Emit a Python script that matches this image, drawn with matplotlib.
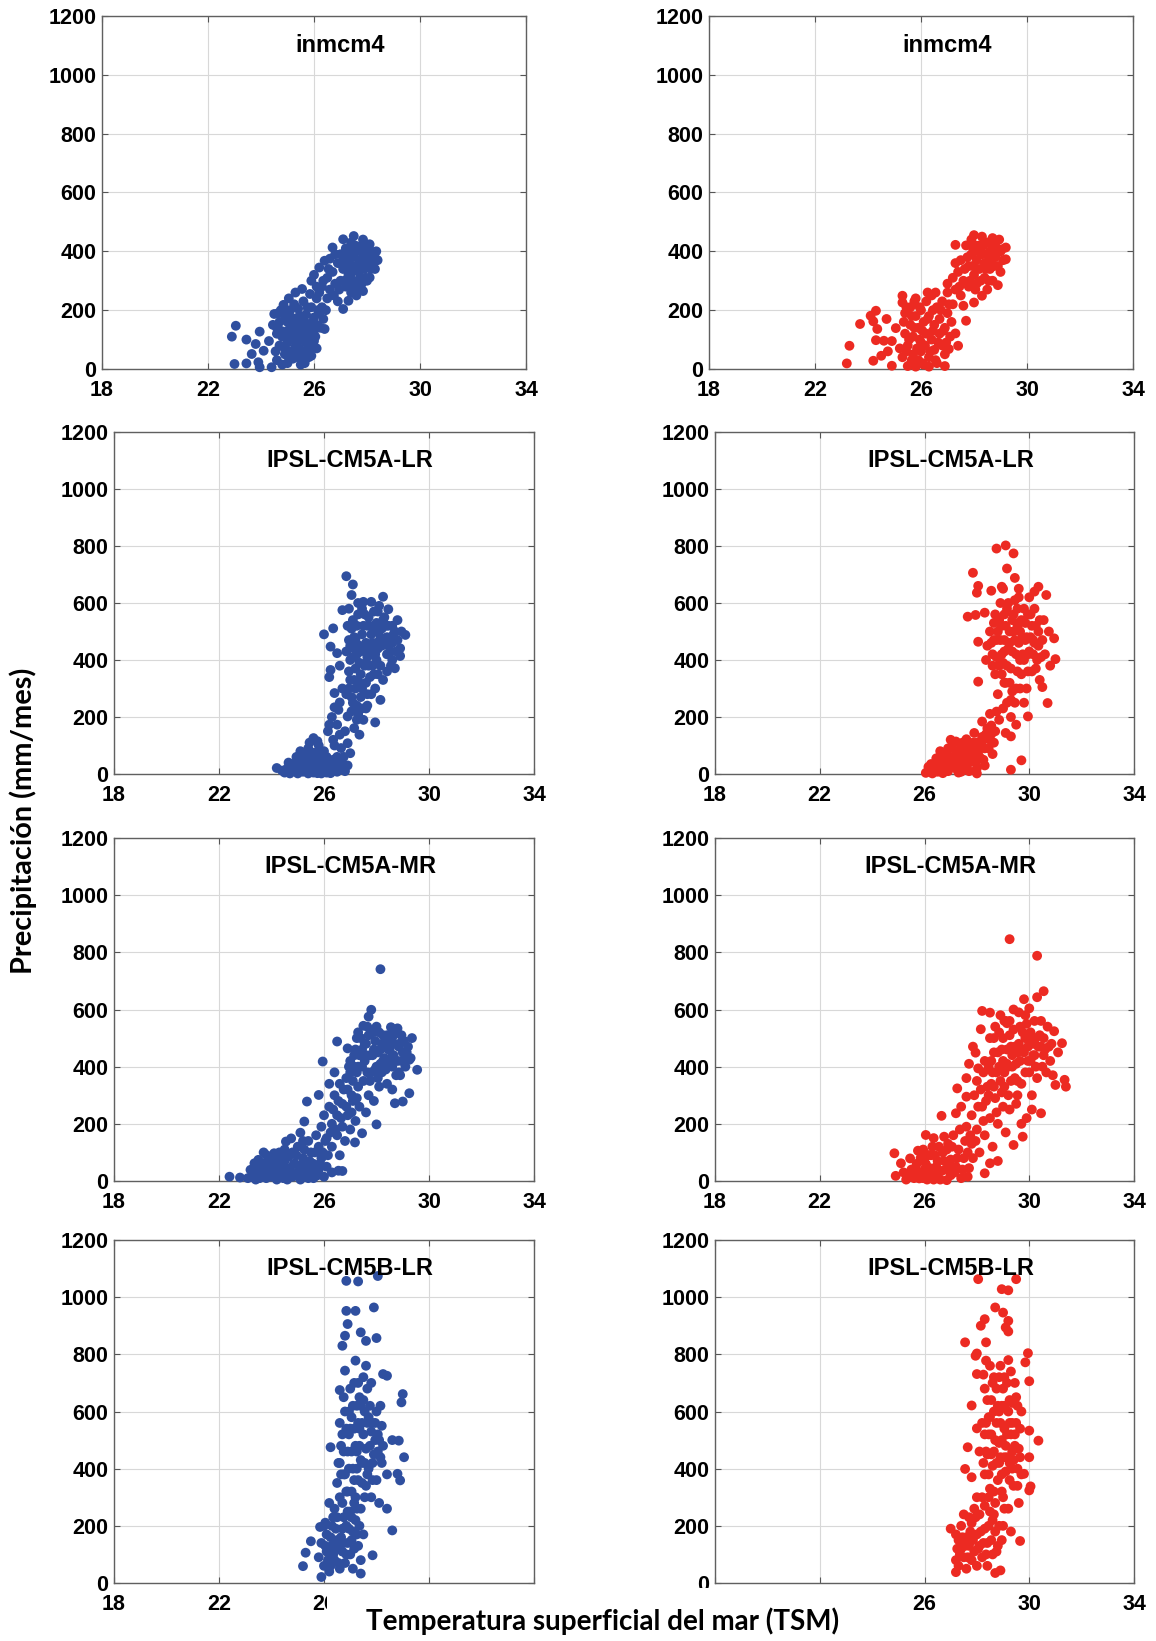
import numpy as np
import matplotlib
matplotlib.use("Agg")
import matplotlib.pyplot as plt
from matplotlib.patches import Rectangle

# sea surface temperature (x) vs precipitation (y), one list of pairs per panel
inmcm4_obs = [
    (22.9, 110), (23.05, 147), (23.0, 17), (23.45, 19), (23.45, 100), (23.65, 51), (23.8, 85), (23.95, 127),
    (23.9, 23), (23.95, 6), (24.4, 6), (24.1, 62), (24.5, 187), (24.85, 218), (24.3, 95), (24.6, 140),
    (24.6, 30), (24.7, 80), (24.7, 160), (24.8, 110), (24.8, 15), (24.9, 50), (24.9, 180), (25.0, 130),
    (25.0, 90), (25.0, 20), (25.1, 60), (25.1, 200), (25.2, 150), (25.2, 100), (25.2, 35), (25.3, 170),
    (25.3, 75), (25.4, 125), (25.4, 205), (25.4, 40), (25.5, 100), (25.5, 160), (25.5, 15), (25.6, 60),
    (25.6, 230), (25.6, 135), (25.7, 185), (25.7, 90), (25.8, 40), (25.8, 150), (25.8, 110), (25.9, 210),
    (25.9, 70), (26.0, 130), (26.0, 175), (26.0, 95), (26.1, 240), (26.1, 150), (26.2, 190), (26.3, 210),
    (25.3, 260), (25.55, 272), (24.75, 200), (25.85, 255), (25.0, 160), (24.6, 120), (25.9, 45), (25.65, 20),
    (26.35, 170), (26.4, 136), (26.0, 320), (25.9, 300), (26.2, 345), (26.3, 280), (26.4, 368), (26.5, 310),
    (26.5, 240), (26.6, 270), (26.7, 413), (26.7, 330), (26.8, 290), (26.9, 360), (26.9, 230), (27.0, 390),
    (27.1, 204), (27.3, 232), (26.45, 200), (26.6, 375), (26.2, 260), (27.0, 300), (27.1, 441), (27.1, 340),
    (27.2, 410), (27.2, 280), (27.3, 370), (27.3, 320), (27.4, 430), (27.4, 260), (27.5, 452), (27.5, 350),
    (27.5, 300), (27.6, 400), (27.6, 250), (27.7, 370), (27.7, 330), (27.8, 420), (27.8, 290), (27.9, 380),
    (27.9, 340), (28.0, 400), (28.0, 300), (28.1, 424), (28.1, 311), (28.2, 360), (28.25, 390), (28.3, 377),
    (28.4, 370), (28.0, 350), (27.65, 280), (27.85, 265), (27.2, 385),
    (24.55, 60), (24.65, 190), (24.75, 130), (24.85, 75), (24.95, 110), (24.95, 200), (25.05, 40), (25.15, 125),
    (25.15, 175), (25.25, 55), (25.25, 220), (25.35, 100), (25.35, 145), (25.45, 70), (25.45, 180), (25.55, 120),
    (25.55, 40), (25.65, 160), (25.65, 95), (25.75, 65), (25.75, 210), (25.85, 130), (25.95, 160), (26.05, 110),
    (26.15, 200), (26.25, 140), (24.45, 150), (25.05, 240), (26.1, 70),
    (27.05, 360), (27.15, 300), (27.25, 350), (27.35, 400), (27.35, 290), (27.45, 330), (27.45, 380), (27.55, 420),
    (27.55, 270), (27.65, 350), (27.75, 400), (27.75, 310), (27.85, 440), (27.95, 360), (27.95, 310), (28.05, 380),
    (28.15, 340), (28.15, 400), (28.3, 340), (28.35, 400), (26.8, 390), (26.95, 270), (26.55, 340), (26.75, 250),
    (26.35, 300), (26.1, 280),
]
inmcm4_mod = [
    (23.2, 19), (23.3, 79), (23.7, 153), (24.1, 181), (24.3, 198), (24.2, 162), (24.35, 136), (24.3, 98),
    (24.2, 28), (24.6, 96), (24.7, 170), (25.05, 139), (25.3, 249), (25.3, 226), (24.9, 11), (24.5, 45),
    (24.75, 60), (24.9, 95), (25.3, 40), (25.4, 120), (25.4, 190), (25.5, 80), (25.5, 10), (25.6, 150),
    (25.6, 210), (25.7, 50), (25.7, 110), (25.8, 8), (25.8, 180), (25.8, 240), (25.9, 30), (25.9, 140),
    (26.0, 90), (26.0, 200), (26.0, 60), (26.1, 160), (26.1, 15), (26.2, 120), (26.2, 230), (26.3, 40),
    (26.3, 180), (26.4, 100), (26.4, 250), (26.5, 65), (26.5, 150), (26.6, 210), (26.6, 20), (26.7, 120),
    (26.7, 170), (26.8, 80), (26.8, 230), (26.9, 140), (26.9, 50), (27.0, 190), (27.0, 260), (27.1, 110),
    (27.05, 68), (27.2, 220), (27.3, 121), (27.4, 79), (25.6, 15), (26.3, 8), (26.9, 10), (25.2, 70),
    (25.95, 100), (26.55, 260), (27.0, 290), (27.2, 310), (27.3, 270), (27.4, 330), (27.5, 250), (27.6, 215),
    (27.6, 300), (27.7, 164), (28.0, 226), (28.3, 249), (27.3, 422), (27.5, 370), (27.7, 420), (27.8, 350),
    (27.8, 280), (27.9, 440), (27.9, 390), (28.0, 320), (28.0, 455), (28.1, 370), (28.1, 290), (28.2, 420),
    (28.2, 340), (28.3, 450), (28.3, 390), (28.4, 310), (28.4, 360), (28.5, 430), (28.5, 270), (28.6, 400),
    (28.6, 340), (28.7, 445), (28.7, 300), (28.8, 380), (28.8, 420), (28.9, 285), (28.9, 350), (29.0, 400),
    (29.05, 407), (29.2, 373), (29.2, 413), (27.9, 419), (28.6, 370), (29.0, 330),
    (25.35, 160), (25.45, 60), (25.55, 100), (25.65, 30), (25.65, 180), (25.75, 140), (25.85, 70), (25.95, 210),
    (26.05, 130), (26.05, 20), (26.15, 80), (26.25, 170), (26.35, 60), (26.45, 200), (26.45, 130), (26.55, 30),
    (26.65, 90), (26.75, 200), (26.85, 130), (26.95, 90), (27.05, 220), (27.15, 160), (25.75, 230), (26.25, 260),
    (25.45, 210),
    (27.75, 380), (27.85, 300), (27.95, 350), (28.05, 420), (28.05, 270), (28.15, 400), (28.25, 300), (28.35, 420),
    (28.45, 340), (28.45, 390), (28.55, 300), (28.65, 430), (28.75, 350), (28.85, 400), (28.95, 440), (29.1, 370),
    (27.65, 340), (27.45, 280), (27.3, 360),
]
cm5a_lr_obs = [
    (24.2, 21), (24.5, 5), (24.6, 20), (24.7, 2), (24.8, 35), (24.9, 10), (25.0, 50), (25.0, 2),
    (25.1, 25), (25.2, 70), (25.2, 8), (25.3, 40), (25.4, 90), (25.4, 2), (25.5, 55), (25.5, 20),
    (25.6, 126), (25.6, 5), (25.7, 75), (25.7, 35), (25.8, 100), (25.8, 10), (25.9, 50), (25.9, 2),
    (26.0, 80), (26.0, 25), (26.1, 60), (26.1, 5), (26.2, 40), (26.3, 15), (26.4, 30), (26.5, 8),
    (26.6, 20), (26.7, 35), (26.8, 10), (25.3, 60), (25.1, 80), (24.95, 60), (25.75, 3), (26.25, 3),
    (26.2, 173), (26.5, 173), (26.15, 150), (26.6, 138), (26.9, 108), (27.0, 73), (26.35, 120), (26.65, 91),
    (26.4, 100), (26.5, 60), (26.8, 150), (26.3, 200), (26.55, 225), (26.2, 340), (26.4, 284), (26.4, 234),
    (26.6, 251), (26.0, 490), (26.35, 511), (26.25, 447), (26.25, 365), (26.5, 424), (26.7, 300), (26.6, 380),
    (26.85, 694), (27.1, 665), (27.05, 628), (28.25, 622), (28.45, 578), (27.8, 604), (27.5, 604), (26.7, 575),
    (29.1, 488), (28.95, 500), (28.9, 441), (28.9, 414), (28.7, 371), (28.25, 330), (28.15, 260), (27.95, 181),
    (27.35, 138), (27.15, 161), (26.9, 202), (27.1, 250), (27.3, 210), (27.6, 230), (27.8, 280), (27.0, 330),
    (27.2, 300), (27.4, 270), (27.6, 320), (27.9, 350), (27.0, 400), (27.2, 370), (27.4, 350), (27.6, 390),
    (27.8, 420), (28.0, 400), (28.2, 450), (28.4, 480), (28.6, 520), (27.0, 450), (27.2, 470), (27.4, 430),
    (27.6, 460), (27.8, 490), (28.0, 530), (28.2, 510), (28.4, 420), (28.6, 460), (28.8, 540), (26.9, 520),
    (27.1, 540), (27.3, 560), (27.5, 520), (27.7, 550), (27.9, 570), (28.1, 590), (28.3, 550), (27.3, 600),
    (26.95, 580), (28.6, 400), (28.0, 460), (27.5, 190), (27.7, 380), (28.4, 360), (27.1, 410),
    (24.4, 12), (24.65, 40), (24.85, 15), (25.05, 30), (25.15, 45), (25.25, 20), (25.35, 10), (25.45, 35),
    (25.55, 75), (25.65, 50), (25.85, 30), (25.95, 65), (26.05, 45), (26.15, 25), (26.35, 50), (26.45, 15),
    (26.55, 40), (26.75, 60), (26.9, 30), (25.45, 110), (25.75, 115),
    (26.95, 360), (27.05, 270), (27.15, 480), (27.25, 420), (27.35, 320), (27.45, 490), (27.55, 380), (27.65, 280),
    (27.75, 440), (27.85, 380), (27.95, 420), (28.05, 350), (28.15, 480), (28.35, 520), (28.45, 450), (28.55, 380),
    (28.7, 500), (28.75, 430), (27.25, 240), (27.45, 580), (27.65, 520), (28.05, 570), (26.85, 430), (26.85, 280),
    (26.95, 470), (27.05, 510), (27.15, 330), (27.25, 520), (27.35, 450), (27.45, 300), (27.55, 440), (27.55, 560),
    (27.65, 410), (27.75, 340), (27.75, 520), (27.85, 460), (27.95, 300), (27.95, 500), (28.05, 440), (28.15, 380),
    (28.25, 540), (28.35, 470), (28.45, 520), (28.55, 430), (28.65, 490), (28.8, 470), (27.35, 390), (27.15, 440),
    (26.95, 300), (27.05, 220), (27.25, 190), (27.45, 230), (27.65, 240),
]
cm5a_lr_mod = [
    (26.05, 4), (26.2, 15), (26.3, 2), (26.4, 30), (26.5, 8), (26.5, 50), (26.6, 20), (26.7, 70),
    (26.7, 3), (26.8, 40), (26.9, 90), (26.9, 10), (27.0, 60), (27.1, 25), (27.2, 114), (27.2, 80),
    (27.3, 5), (27.3, 45), (27.4, 95), (27.5, 30), (27.6, 122), (27.6, 70), (27.7, 10), (27.7, 100),
    (27.8, 50), (27.9, 144), (27.9, 80), (28.0, 20), (28.0, 110), (28.1, 60), (28.2, 184), (28.2, 130),
    (28.3, 90), (28.3, 30), (28.4, 160), (28.5, 211), (28.5, 120), (28.6, 70), (28.75, 219), (28.7, 150),
    (26.6, 80), (27.0, 120), (27.4, 8), (28.0, 2), (29.3, 15), (29.7, 48),
    (28.75, 791), (29.1, 802), (29.4, 774), (29.15, 721), (29.45, 688), (27.85, 706), (28.05, 660), (28.0, 636),
    (28.55, 643), (28.95, 657), (30.35, 657), (30.65, 628), (27.65, 552), (27.95, 558), (28.3, 566), (28.05, 464),
    (31.0, 403), (30.95, 476), (30.7, 249), (30.5, 305), (28.05, 324), (29.95, 202), (29.5, 173), (29.1, 144),
    (29.3, 132), (28.5, 500), (28.6, 420), (28.7, 560), (28.7, 350), (28.8, 280), (28.9, 470), (28.9, 600),
    (29.0, 390), (29.0, 230), (29.1, 520), (29.1, 320), (29.2, 440), (29.2, 600), (29.3, 260), (29.3, 370),
    (29.4, 500), (29.4, 560), (29.5, 420), (29.5, 300), (29.6, 620), (29.6, 460), (29.7, 350), (29.7, 540),
    (29.8, 400), (29.8, 580), (29.9, 480), (29.9, 300), (30.0, 620), (30.0, 430), (30.1, 520), (30.1, 360),
    (30.2, 580), (30.2, 460), (30.3, 400), (30.4, 540), (30.4, 330), (30.5, 470), (30.6, 420), (30.75, 500),
    (30.8, 380), (29.0, 650), (29.6, 650), (28.4, 450), (28.6, 380), (28.8, 500), (29.3, 200), (29.8, 250),
    (30.2, 640), (28.35, 400),
    (26.25, 35), (26.35, 10), (26.45, 55), (26.55, 25), (26.65, 45), (26.75, 20), (26.85, 65), (26.95, 35),
    (27.05, 95), (27.15, 50), (27.25, 15), (27.35, 70), (27.45, 50), (27.55, 100), (27.65, 35), (27.75, 70),
    (27.85, 110), (27.95, 40), (28.05, 80), (28.15, 100), (28.25, 50), (28.35, 140), (28.45, 90), (28.55, 170),
    (28.65, 110), (28.85, 190),
    (28.65, 470), (28.75, 410), (28.85, 540), (28.95, 350), (29.05, 470), (29.05, 560), (29.15, 380), (29.25, 500),
    (29.35, 430), (29.45, 610), (29.55, 360), (29.55, 520), (29.65, 400), (29.75, 480), (29.85, 530), (29.95, 360),
    (29.95, 420), (30.05, 560), (30.15, 470), (30.25, 520), (30.35, 450), (29.25, 320), (29.45, 250), (28.95, 420),
    (28.55, 460), (28.65, 530), (28.75, 470), (28.85, 380), (28.95, 520), (29.05, 430), (29.15, 580), (29.25, 460),
    (29.35, 540), (29.45, 470), (29.55, 580), (29.65, 500), (29.75, 420), (29.85, 470), (29.95, 560), (30.05, 480),
    (30.15, 420), (30.25, 370), (30.35, 500), (30.45, 410), (29.35, 290), (29.15, 250), (29.65, 300), (29.05, 320),
    (30.55, 540), (26.15, 25), (26.45, 40), (26.75, 50), (27.05, 40), (27.35, 30), (27.65, 55), (27.95, 100),
    (28.25, 120), (28.55, 140), (27.45, 110),
]
cm5a_mr_obs = [
    (22.4, 15), (22.8, 12), (23.2, 39), (23.35, 62), (23.5, 74), (23.8, 91), (24.1, 97), (24.55, 138),
    (24.75, 149), (25.1, 169), (25.35, 278), (25.25, 208), (25.8, 301), (25.95, 418), (26.5, 488), (26.9, 464),
    (23.1, 10), (23.3, 30), (23.4, 5), (23.5, 45), (23.6, 20), (23.7, 60), (23.8, 10), (23.9, 40),
    (24.0, 70), (24.0, 15), (24.2, 50), (24.2, 5), (24.3, 100), (24.4, 30), (24.5, 70), (24.6, 5),
    (24.7, 45), (24.8, 100), (24.8, 15), (24.9, 60), (25.0, 120), (25.0, 30), (25.1, 5), (25.2, 80),
    (25.3, 45), (25.4, 140), (25.4, 10), (25.5, 100), (25.6, 60), (25.6, 25), (25.7, 160), (25.8, 120),
    (25.8, 40), (25.9, 80), (26.0, 15), (26.1, 50), (26.3, 30), (25.2, 140), (24.5, 110), (23.7, 100),
    (25.9, 190), (26.0, 230), (26.1, 150), (26.2, 260), (26.3, 200), (26.3, 120), (26.4, 300), (26.5, 230),
    (26.5, 160), (26.6, 340), (26.6, 90), (26.7, 270), (26.7, 190), (26.8, 140), (26.9, 320), (26.9, 230),
    (27.0, 380), (27.0, 180), (27.1, 280), (27.2, 210), (27.3, 330), (26.4, 380), (26.2, 340), (26.7, 35),
    (26.55, 36), (27.18, 135), (27.45, 167), (28.0, 198), (27.6, 240), (28.15, 741), (27.8, 599), (27.7, 575),
    (27.5, 543), (28.55, 538), (28.8, 534), (29.35, 500), (28.95, 486), (29.55, 389), (29.25, 424), (29.25, 307),
    (29.0, 278), (28.7, 272), (27.0, 420), (27.2, 460), (27.3, 400), (27.4, 500), (27.5, 350), (27.6, 440),
    (27.7, 300), (27.7, 510), (27.8, 380), (27.9, 460), (27.9, 280), (28.0, 540), (28.0, 400), (28.1, 330),
    (28.2, 480), (28.2, 380), (28.3, 430), (28.4, 510), (28.4, 340), (28.5, 460), (28.6, 400), (28.7, 480),
    (28.8, 420), (28.9, 370), (29.0, 450), (29.1, 400), (29.2, 470), (27.3, 520), (27.1, 350), (28.6, 320),
    (23.25, 15), (23.45, 25), (23.65, 40), (23.85, 25), (23.95, 55), (24.05, 35), (24.15, 80), (24.25, 20),
    (24.35, 60), (24.45, 10), (24.55, 45), (24.65, 85), (24.75, 25), (24.85, 60), (24.95, 90), (25.05, 15),
    (25.15, 55), (25.25, 110), (25.35, 20), (25.45, 70), (25.55, 40), (25.65, 100), (25.75, 20), (25.85, 60),
    (25.95, 100), (26.05, 140), (26.15, 90), (26.25, 170),
    (26.35, 250), (26.45, 180), (26.55, 280), (26.65, 220), (26.75, 320), (26.85, 260), (26.95, 400), (27.05, 300),
    (27.15, 440), (27.25, 380), (27.35, 440), (27.45, 400), (27.55, 480), (27.65, 380), (27.75, 440), (27.85, 520),
    (27.95, 390), (28.05, 450), (28.15, 410), (28.25, 510), (28.35, 390), (28.45, 460), (28.55, 430), (28.65, 510),
    (28.75, 370), (28.85, 470), (28.95, 510), (29.1, 440), (27.05, 240), (27.35, 260),
    (27.15, 400), (27.25, 500), (27.45, 460), (27.55, 420), (27.65, 540), (27.75, 350), (27.85, 440), (27.95, 490),
    (28.05, 360), (28.15, 460), (28.25, 420), (28.35, 480), (28.45, 400), (28.55, 500), (28.65, 440), (28.75, 520),
    (28.85, 380), (28.95, 420), (29.05, 490), (29.15, 450), (29.3, 430), (28.1, 520), (27.6, 480), (26.85, 360),
    (27.25, 290), (23.55, 10), (24.1, 20), (24.6, 30), (25.1, 40), (25.6, 10), (24.4, 80), (23.9, 80),
]
cm5a_mr_mod = [
    (24.85, 97), (24.9, 18), (25.1, 62), (25.45, 79), (25.75, 106), (26.05, 161), (26.15, 91), (26.65, 228),
    (26.75, 155), (27.25, 324), (27.2, 237), (27.4, 260), (27.6, 295), (27.95, 449), (28.05, 394), (28.15, 531),
    (28.2, 595), (28.5, 589), (29.15, 552), (29.25, 846), (30.3, 788), (30.55, 664), (30.3, 643), (29.8, 636),
    (30.0, 604), (30.95, 524), (31.25, 482), (31.4, 330), (31.35, 354), (31.0, 336), (30.45, 237), (29.75, 155),
    (29.4, 126), (28.8, 70), (28.5, 62), (28.3, 27), (27.65, 15), (26.85, 3), (25.8, 9),
    (25.2, 30), (25.3, 5), (25.5, 40), (25.6, 10), (25.7, 60), (25.9, 25), (26.0, 80), (26.1, 5),
    (26.2, 45), (26.3, 120), (26.4, 20), (26.5, 70), (26.6, 5), (26.7, 100), (26.8, 40), (26.9, 130),
    (27.0, 20), (27.0, 75), (27.1, 160), (27.2, 50), (27.3, 110), (27.4, 10), (27.5, 80), (27.6, 190),
    (27.7, 45), (27.8, 130), (26.4, 90), (25.95, 110), (26.35, 150), (26.0, 40),
    (27.8, 230), (27.9, 300), (28.0, 180), (28.0, 350), (28.1, 100), (28.2, 260), (28.3, 420), (28.3, 160),
    (28.4, 330), (28.5, 220), (28.6, 380), (28.6, 120), (28.7, 290), (28.8, 450), (28.8, 200), (28.9, 350),
    (29.0, 260), (29.0, 500), (29.1, 170), (29.2, 400), (29.2, 300), (27.6, 360), (27.7, 410), (27.85, 470),
    (28.5, 500), (28.7, 540), (28.9, 580), (29.0, 420), (29.1, 560), (29.3, 470), (29.3, 350), (29.4, 530),
    (29.5, 270), (29.5, 410), (29.6, 590), (29.6, 480), (29.7, 340), (29.8, 450), (29.9, 550), (29.9, 220),
    (30.0, 380), (30.0, 490), (30.1, 300), (30.2, 560), (30.2, 440), (30.3, 360), (30.4, 510), (30.5, 400),
    (30.6, 460), (30.7, 540), (30.8, 420), (30.9, 370), (31.1, 450), (29.4, 600), (30.1, 250), (29.7, 200),
    (25.35, 20), (25.55, 20), (25.65, 45), (25.75, 30), (25.85, 80), (25.95, 10), (26.05, 60), (26.15, 30),
    (26.25, 90), (26.35, 5), (26.45, 50), (26.55, 120), (26.65, 35), (26.75, 70), (26.85, 110), (26.95, 50),
    (27.05, 120), (27.15, 30), (27.25, 80), (27.35, 180), (27.45, 40), (27.55, 140), (27.65, 100), (27.75, 160),
    (27.85, 80), (27.95, 140),
    (28.05, 260), (28.15, 320), (28.25, 210), (28.35, 280), (28.45, 400), (28.55, 340), (28.65, 450), (28.75, 240),
    (28.85, 400), (28.95, 310), (29.05, 380), (29.15, 460), (29.25, 250), (29.35, 400), (29.45, 470), (29.55, 350),
    (29.65, 420), (29.75, 520), (29.85, 380), (29.95, 470), (30.05, 420), (30.15, 480), (30.25, 400), (30.35, 470),
    (30.45, 560), (30.55, 440), (30.65, 380), (30.75, 470), (29.25, 560), (29.85, 580),
    (28.55, 420), (28.65, 500), (28.75, 380), (28.85, 520), (28.95, 460), (29.05, 560), (29.15, 410), (29.25, 510),
    (29.35, 440), (29.45, 360), (29.55, 450), (29.65, 540), (29.75, 460), (29.85, 500), (29.95, 420), (30.05, 520),
    (30.15, 440), (30.25, 500), (30.45, 470), (30.55, 500), (30.85, 480), (29.05, 330), (29.55, 300), (28.45, 300),
    (28.25, 380), (28.65, 330),
]
cm5b_lr_obs = [
    (25.2, 59), (25.3, 106), (25.5, 146), (25.85, 196), (26.05, 211), (25.9, 21), (26.25, 475), (26.85, 1057),
    (27.3, 1055), (28.05, 1074), (27.9, 964), (26.85, 952), (27.2, 952), (26.9, 906), (26.8, 865), (26.7, 830),
    (27.4, 877), (27.6, 847), (28.0, 857), (27.2, 778), (26.8, 743), (26.6, 675), (28.25, 731), (28.4, 725),
    (29.0, 661), (28.95, 632), (29.05, 440), (28.85, 498), (28.9, 359), (28.8, 382), (28.6, 184), (28.4, 260),
    (27.4, 33), (27.85, 97),
    (25.8, 90), (25.9, 140), (26.0, 60), (26.1, 110), (26.1, 170), (26.2, 40), (26.3, 130), (26.3, 200),
    (26.4, 80), (26.5, 150), (26.5, 230), (26.6, 50), (26.7, 110), (26.7, 190), (26.8, 70), (26.9, 140),
    (26.9, 250), (27.0, 100), (27.1, 180), (27.1, 50), (27.2, 220), (27.3, 130), (27.4, 80), (27.5, 170),
    (26.4, 260), (26.0, 200), (26.6, 300), (26.2, 280),
    (26.5, 350), (26.6, 420), (26.7, 280), (26.7, 520), (26.8, 380), (26.8, 600), (26.9, 320), (26.9, 460),
    (27.0, 540), (27.0, 250), (27.1, 400), (27.1, 620), (27.2, 300), (27.2, 480), (27.3, 560), (27.3, 360),
    (27.4, 430), (27.4, 260), (27.5, 520), (27.5, 640), (27.6, 340), (27.6, 470), (27.7, 580), (27.7, 400),
    (27.8, 300), (27.8, 530), (27.9, 450), (28.0, 360), (28.0, 600), (28.1, 500), (28.1, 280), (28.2, 420),
    (28.2, 550), (28.4, 380), (28.6, 500), (26.6, 560), (27.3, 700), (27.5, 720), (27.8, 700), (27.0, 680),
    (27.6, 760), (27.4, 620),
    (26.05, 130), (26.15, 80), (26.25, 160), (26.35, 100), (26.45, 190), (26.55, 120), (26.55, 70), (26.65, 160),
    (26.75, 230), (26.75, 140), (26.85, 100), (26.95, 190), (27.05, 150), (27.15, 120), (27.25, 170), (27.35, 200),
    (26.35, 230), (26.25, 60),
    (26.65, 480), (26.75, 380), (26.85, 540), (26.95, 400), (27.05, 320), (27.05, 460), (27.15, 540), (27.25, 400),
    (27.35, 480), (27.45, 350), (27.45, 560), (27.55, 420), (27.65, 560), (27.75, 480), (27.85, 420), (27.95, 560),
    (28.05, 460), (28.15, 620), (28.25, 480), (27.15, 280), (27.55, 300), (27.85, 360), (26.95, 600), (27.25, 620),
    (26.55, 420), (26.65, 380), (26.75, 460), (26.85, 320), (26.95, 520), (27.05, 580), (27.15, 360), (27.25, 460),
    (27.35, 540), (27.45, 420), (27.55, 600), (27.65, 380), (27.75, 620), (27.85, 560), (27.95, 500), (28.05, 520),
    (28.15, 440), (27.35, 650), (27.65, 680), (27.15, 700), (26.75, 650), (27.05, 230), (26.85, 200), (27.25, 260),
]
cm5b_lr_mod = [
    (28.05, 1063), (29.5, 1063), (28.95, 1028), (29.2, 1024), (28.7, 964), (29.0, 946), (28.3, 923), (28.15, 900),
    (29.2, 917), (29.1, 894), (29.2, 880), (27.55, 842), (28.35, 842), (28.0, 803), (27.95, 795), (28.35, 778),
    (28.0, 731), (28.25, 729), (29.95, 804), (29.85, 772), (30.0, 706), (30.0, 533), (30.35, 498), (30.0, 440),
    (30.05, 338), (30.0, 324), (29.8, 382), (29.65, 147), (27.0, 190), (27.2, 38), (28.7, 35), (28.9, 44),
    (27.8, 621), (28.0, 541), (27.65, 475), (27.55, 399), (27.8, 370), (28.0, 300), (27.7, 230),
    (27.2, 80), (27.3, 150), (27.3, 60), (27.4, 120), (27.4, 200), (27.5, 90), (27.6, 160), (27.6, 50),
    (27.7, 130), (27.8, 80), (27.8, 210), (27.9, 110), (28.0, 170), (28.0, 60), (28.1, 240), (28.1, 130),
    (28.2, 90), (28.3, 190), (28.4, 60), (28.4, 140), (28.5, 250), (28.6, 100), (28.7, 180), (28.8, 130),
    (27.5, 240), (27.2, 170),
    (28.2, 300), (28.3, 380), (28.3, 520), (28.4, 450), (28.4, 640), (28.5, 330), (28.5, 580), (28.6, 410),
    (28.6, 700), (28.7, 500), (28.7, 280), (28.8, 620), (28.8, 360), (28.9, 440), (28.9, 560), (29.0, 300),
    (29.0, 680), (29.1, 480), (29.1, 390), (29.2, 600), (29.2, 260), (29.3, 520), (29.3, 740), (29.4, 430),
    (29.4, 340), (29.5, 560), (29.5, 650), (29.6, 470), (29.6, 280), (29.7, 600), (29.7, 380), (28.3, 680),
    (28.5, 760), (28.9, 760), (29.2, 780), (28.1, 460), (28.2, 560), (28.6, 220), (29.0, 200), (29.3, 180),
    (27.25, 120), (27.35, 100), (27.45, 160), (27.55, 130), (27.65, 90), (27.75, 180), (27.85, 150), (27.95, 230),
    (28.05, 120), (28.15, 180), (28.25, 140), (28.35, 100), (28.45, 200), (28.55, 150), (28.65, 240), (28.75, 110),
    (28.85, 200), (28.95, 150), (27.9, 260), (28.3, 270),
    (28.35, 460), (28.45, 520), (28.55, 450), (28.65, 600), (28.75, 420), (28.75, 680), (28.85, 490), (28.95, 380),
    (28.95, 620), (29.05, 540), (29.15, 440), (29.15, 700), (29.25, 360), (29.25, 560), (29.35, 460), (29.35, 630),
    (29.45, 520), (29.55, 400), (29.65, 540), (28.45, 380), (28.65, 320), (29.05, 260), (29.45, 700), (28.85, 720),
    (28.25, 420), (28.35, 560), (28.45, 300), (28.55, 520), (28.55, 640), (28.65, 460), (28.75, 560), (28.85, 420),
    (28.85, 600), (28.95, 500), (29.05, 440), (29.05, 620), (29.15, 520), (29.25, 420), (29.25, 640), (29.35, 560),
    (29.45, 480), (29.55, 620), (29.55, 340), (29.65, 440), (28.65, 720), (29.05, 720), (29.35, 400), (28.95, 320),
    (28.45, 580),
]

model_names = ["inmcm4", "IPSL-CM5A-LR", "IPSL-CM5A-MR", "IPSL-CM5B-LR"]
panel_data = [
    (inmcm4_obs, inmcm4_mod),
    (cm5a_lr_obs, cm5a_lr_mod),
    (cm5a_mr_obs, cm5a_mr_mod),
    (cm5b_lr_obs, cm5b_lr_mod),
]
x_ticks = [18, 22, 26, 30, 34]
x_tick_labels = ["18", "22", "26", "30", "34"]
# in the bottom row the x label band covers part of the tick labels
bottom_left_labels = ["18", "22", "26", "", ""]
bottom_right_labels = ["", "", "26", "30", "34"]
y_ticks = [0, 200, 400, 600, 800, 1000, 1200]

blue = "#2f4f9f"
red = "#ec2a22"

W, H = 1156, 1641
fig = plt.figure(figsize=(W / 100, H / 100), dpi=100)

# pixel boxes of the axes: (left, right) per column and (top, bottom) per row
row_spans = [(16, 369), (432, 774), (838, 1181), (1240, 1583)]
col_spans = [[(102, 526), (709, 1133)]] + [[(114, 534), (715, 1134)]] * 3


def make_axes(x0, x1, y0, y1):
    return fig.add_axes([x0 / W, 1 - y1 / H, (x1 - x0) / W, (y1 - y0) / H])


for r, name in enumerate(model_names):
    for c in range(2):
        x0, x1 = col_spans[r][c]
        y0, y1 = row_spans[r]
        ax = make_axes(x0, x1, y0, y1)
        pts = np.array(panel_data[r][c])
        ax.scatter(pts[:, 0], pts[:, 1], s=50, color=blue if c == 0 else red,
                   edgecolors="none", zorder=3, clip_on=False)
        ax.set_xlim(18, 34)
        ax.set_ylim(0, 1200)
        ax.set_xticks(x_ticks)
        if r == len(model_names) - 1:
            ax.set_xticklabels(bottom_left_labels if c == 0 else bottom_right_labels)
        else:
            ax.set_xticklabels(x_tick_labels)
        ax.set_yticks(y_ticks)
        ax.grid(True, color="#d8d8d8", linewidth=0.8)
        ax.set_axisbelow(True)
        ax.tick_params(direction="in", top=True, right=True, length=4, width=0.8,
                       color="#555555", labelsize=15.5)
        ax.tick_params(axis="x", pad=8)
        ax.tick_params(axis="y", pad=4)
        for lab in ax.get_xticklabels() + ax.get_yticklabels():
            lab.set_fontweight("bold")
            lab.set_fontfamily("Liberation Sans")
        for sp in ax.spines.values():
            sp.set_color("#606060")
            sp.set_linewidth(1.0)
        ax.text(0.5625, 0.917, name, transform=ax.transAxes, ha="center", va="center",
                fontsize=17, fontweight="bold", family="Liberation Sans", zorder=5)

# white band behind the x label clips the bottom-left "26"
fig.patches.append(Rectangle((327 / W, 0), (880 - 327) / W, 1 - 1588 / H,
                             transform=fig.transFigure, facecolor="white",
                             edgecolor="none", zorder=10))
fig.text(603 / W, 1 - 1621 / H, "Temperatura superficial del mar (TSM)", ha="center",
         va="center", fontsize=20, fontweight="bold", family="Lato", zorder=11)
fig.text(23 / W, 1 - 821 / H, "Precipitación (mm/mes)", ha="center", va="center",
         rotation=90, fontsize=20.8, fontweight="bold", family="Lato")

fig.savefig("out.png", dpi=100)
